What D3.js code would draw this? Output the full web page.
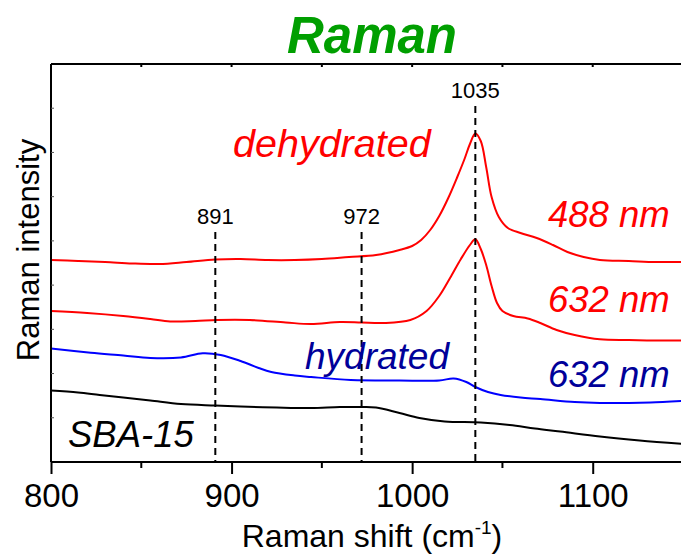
<!DOCTYPE html>
<html><head><meta charset="utf-8">
<script src="https://cdn.jsdelivr.net/npm/d3@7"></script>
<style>
body{margin:0;background:#fff}
svg{display:block;font-family:"Liberation Sans",Arial,sans-serif}
</style>
</head><body>
<svg id="chart" width="681" height="556"></svg>
<script>
// ---------- data (Raman shift in cm-1, intensity in arbitrary units) ----------
const dehyd488Shift = [800,815,830,845,860,875,891,905,920,935,950,965,980,993,1000,1005,1010,1015,1020,1025,1029,1032,1035,1038,1041,1044,1048,1053,1060,1069,1078,1086,1095,1104,1120,1135,1150];
const dehyd488Int   = [202,201,200,198.5,198,200,202.5,203,202,202,203,205,207,212,216,222,232,246,264,285,303,318,328.5,321,295,265,245,234,229,224,217,210,205,202,201,200,200];

const dehyd632Shift = [800,820,840,855,866,880,892,910,930,944,960,972,984,999,1008,1015,1021,1027,1032,1035,1038,1041,1044,1047,1050,1056,1064,1071,1080,1090,1104,1120,1135,1150];
const dehyd632Int   = [151,149,146,143,140.5,141,142,142,139.5,138,140,139.5,139,142,151,166,184,203,217,222.7,213,197,176,159,151,146,143.5,139,132,127,122.7,122,121.5,121.5];

const hyd632Shift = [800,822,840,855,872,884,894,905,915,922,935,944,966,993,1015,1023,1030,1035,1042,1049,1060,1071,1090,1104,1120,1132,1150];
const hyd632Int   = [113.5,109.3,106.5,104,104.5,108.7,107,101,94,90,86.5,85,82,81.5,81.5,83.5,80,75,70,67,64.5,63,60,59,59,59.5,61];

const sbaShift = [800,815,827,840,855,872,891,905,925,944,960,972,980,993,1004,1018,1038,1054,1068,1082,1104,1126,1150];
const sbaInt   = [71.5,69.5,67,64.5,61.5,58,56.5,55.5,54.5,54,55,55,54.5,49,44,40.5,39.5,37,33.5,30.5,25.5,21.5,18];

const peakShifts = [891, 972, 1035];
const peakLabels = ["891", "972", "1035"];
const peakTops   = [230, 230, 356];

const xTickValues = [800, 900, 1000, 1100];
const xMinorTicks = [850, 950, 1050, 1150];
const xDomain = [800, 1150];
const yDomain = [0, 398];
const yTickCount = 9;

// ---------- layout ----------
const W = 681, H = 556;
const M = {left: 51, right: -2, top: 64, bottom: 94};
const FONT = "'Liberation Sans', Arial, sans-serif";
const svg = d3.select("#chart");

const x = d3.scaleLinear().domain(xDomain).range([M.left, W - M.right]);
const y = d3.scaleLinear().domain(yDomain).range([H - M.bottom, M.top]);

const g = svg.append("g");

// curves
const line = d3.line().x(d => x(d[0])).y(d => y(d[1])).curve(d3.curveCatmullRom.alpha(0.5));
const series = [
  {sx: dehyd488Shift, sy: dehyd488Int, color: "#ff0000"},
  {sx: dehyd632Shift, sy: dehyd632Int, color: "#ff0000"},
  {sx: hyd632Shift,   sy: hyd632Int,   color: "#0000ff"},
  {sx: sbaShift,      sy: sbaInt,      color: "#000000"}
];
series.forEach(s => {
  g.append("path")
    .datum(d3.zip(s.sx, s.sy))
    .attr("fill", "none")
    .attr("stroke", s.color)
    .attr("stroke-width", 2)
    .attr("stroke-linejoin", "round")
    .attr("d", line);
});

// dashed peak markers
peakShifts.forEach((p, i) => {
  g.append("line")
    .attr("x1", x(p)).attr("x2", x(p))
    .attr("y1", y(peakTops[i])).attr("y2", y(0))
    .attr("stroke", "#000").attr("stroke-width", 2)
    .attr("stroke-dasharray", "7,5");
  g.append("text")
    .attr("x", x(p)).attr("y", y(peakTops[i]) - 8)
    .attr("text-anchor", "middle")
    .attr("font-size", 22)
    .attr("fill", "#000")
    .text(peakLabels[i]);
});

// bottom axis (ticks outward)
const xAxis = d3.axisBottom(x).tickValues(xTickValues).tickSize(12).tickPadding(10).tickFormat(d3.format("d"));
const xa = svg.append("g").attr("transform", `translate(0,${y(0)})`).call(xAxis).attr("font-family", FONT);
xa.select(".domain").attr("stroke-width", 2).attr("d", `M${x(800)},0H${x(1150)}`);
xa.selectAll(".tick line").attr("stroke-width", 2);
xa.selectAll(".tick text").attr("font-size", 33).attr("fill", "#000");
xa.selectAll(".minor").data(xMinorTicks).enter().append("line")
  .attr("x1", d => x(d)).attr("x2", d => x(d)).attr("y1", 0).attr("y2", 6)
  .attr("stroke", "#000").attr("stroke-width", 2);

// top axis line with small inward ticks
const xt = svg.append("g").attr("transform", `translate(0,${M.top})`);
xt.append("line").attr("x1", x(800)).attr("x2", x(1150)).attr("y1", 0).attr("y2", 0).attr("stroke", "#000").attr("stroke-width", 2);
xt.selectAll(".t").data(xTickValues.concat(xMinorTicks).filter(v => v > 800)).enter().append("line")
  .attr("x1", d => x(d)).attr("x2", d => x(d)).attr("y1", 0).attr("y2", 3)
  .attr("stroke", "#000").attr("stroke-width", 2);

// left axis with small inward ticks
const yStep = (yDomain[1] - yDomain[0]) / yTickCount;
const yt = svg.append("g").attr("transform", `translate(${x(800)},0)`);
yt.append("line").attr("x1", 0).attr("x2", 0).attr("y1", y(yDomain[1])).attr("y2", y(0)).attr("stroke", "#000").attr("stroke-width", 2);
yt.selectAll(".t").data(d3.range(1, yTickCount).map(i => i * yStep)).enter().append("line")
  .attr("x1", 0).attr("x2", 3).attr("y1", d => y(d)).attr("y2", d => y(d))
  .attr("stroke", "#555").attr("stroke-width", 1);

// title
svg.append("text").attr("x", 372).attr("y", 53).attr("text-anchor", "middle")
  .attr("font-size", 51).attr("font-weight", "bold").attr("font-style", "italic")
  .attr("fill", "#009f00").text("Raman");

// axis titles
const xl = svg.append("text").attr("x", 372).attr("y", 547).attr("text-anchor", "middle")
  .attr("font-size", 32).attr("fill", "#000");
xl.append("tspan").text("Raman shift (cm");
xl.append("tspan").attr("font-size", 19).attr("dy", -13).text("-1");
xl.append("tspan").attr("dy", 13).text(")");

svg.append("text").attr("transform", `translate(39,250) rotate(-90)`).attr("text-anchor", "middle")
  .attr("font-size", 31).attr("fill", "#000").text("Raman intensity");

// curve annotations
const notes = [
  {t: "dehydrated", x: 233, y: 157, fs: 39.5, c: "#ff0000"},
  {t: "488 nm",     x: 548, y: 227, fs: 36.5, c: "#ff0000"},
  {t: "632 nm",     x: 548, y: 312, fs: 36.5, c: "#ff0000"},
  {t: "hydrated",   x: 305, y: 369, fs: 37,   c: "#000099"},
  {t: "632 nm",     x: 548, y: 387, fs: 36.5, c: "#000099"},
  {t: "SBA-15",     x: 68,  y: 447, fs: 36.5, c: "#000000"}
];
notes.forEach(n => {
  svg.append("text").attr("x", n.x).attr("y", n.y)
    .attr("font-size", n.fs).attr("font-style", "italic")
    .attr("fill", n.c).text(n.t);
});
</script>
</body></html>
